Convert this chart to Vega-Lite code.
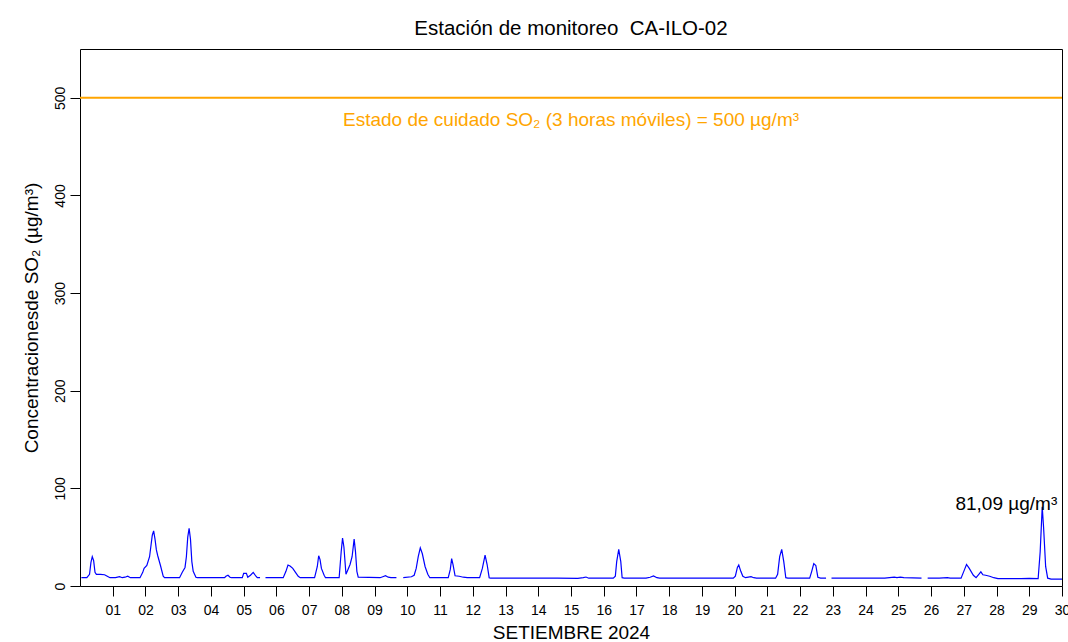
{
  "$schema": "https://vega.github.io/schema/vega-lite/v6.json",
  "width": 982,
  "height": 537,
  "autosize": {"type": "none"},
  "padding": {"left": 80, "top": 49, "right": 6, "bottom": 56},
  "background": "white",
  "title": {"text": "Estación de monitoreo \u00a0CA-ILO-02", "fontSize": 20.5, "font": "Liberation Sans", "fontWeight": "normal", "color": "black", "offset": 10},
  "config": {
    "view": {"stroke": "black", "strokeWidth": 1},
    "font": "Liberation Sans",
    "axis": {"grid": false, "domain": false, "tickColor": "black", "tickSize": 10, "labelColor": "black", "labelFont": "Liberation Sans", "labelFontSize": 14, "titleFont": "Liberation Sans", "titleFontSize": 19, "titleFontWeight": "normal", "titleColor": "black"}
  },
  "encoding": {
    "x": {
      "field": "hora", "type": "quantitative",
      "scale": {"domain": [0, 720], "nice": false, "zero": false},
      "axis": {
        "title": "SETIEMBRE 2024",
        "values": [24, 48, 72, 96, 120, 144, 168, 192, 216, 240, 264, 288, 312, 336, 360, 384, 408, 432, 456, 480, 504, 528, 552, 576, 600, 624, 648, 672, 696, 720],
        "labelExpr": "(datum.value < 240 ? '0' : '') + round(datum.value / 24)",
        "labelPadding": 7,
        "labelOverlap": false,
        "labelFlush": false,
        "labelBound": false,
        "titlePadding": 6
      }
    },
    "y": {
      "field": "so2", "type": "quantitative",
      "scale": {"domain": [0, 550], "nice": false},
      "axis": {
        "title": "Concentracionesde SO₂ (µg/m³)",
        "values": [0, 100, 200, 300, 400, 500],
        "labelAngle": -90,
        "labelAlign": "center",
        "labelBaseline": "bottom",
        "labelPadding": 3,
        "titlePadding": 12
      }
    }
  },
  "layer": [
    {
      "data": {"values": [{"hora": 0, "so2": 500}, {"hora": 720, "so2": 500}]},
      "mark": {"type": "line", "color": "#FFA500", "strokeWidth": 2}
    },
    {
      "data": {"values": [{"so2": 500, "hora": 360, "etiqueta": "Estado de cuidado SO₂ (3 horas móviles) = 500 µg/m³"}]},
      "mark": {"type": "text", "color": "#FFA500", "fontSize": 19, "font": "Liberation Sans", "align": "center", "baseline": "alphabetic", "dy": 28},
      "encoding": {"text": {"field": "etiqueta"}}
    },
    {
      "data": {"values": [
        {"hora": 1, "so2": 8.5}, {"hora": 5, "so2": 8.5}, {"hora": 7, "so2": 12}, {"hora": 8, "so2": 24}, {"hora": 9, "so2": 30}, {"hora": 10, "so2": 26}, {"hora": 11, "so2": 14}, {"hora": 12, "so2": 12}, {"hora": 15, "so2": 12}, {"hora": 18, "so2": 11.5}, {"hora": 20, "so2": 10}, {"hora": 22, "so2": 8.5},
        {"hora": 26, "so2": 8.5}, {"hora": 29, "so2": 9.5}, {"hora": 31, "so2": 8.5}, {"hora": 33, "so2": 9}, {"hora": 35, "so2": 10}, {"hora": 37, "so2": 8.5}, {"hora": 44, "so2": 8.5}, {"hora": 46, "so2": 14}, {"hora": 47, "so2": 18}, {"hora": 49, "so2": 21}, {"hora": 51, "so2": 30}, {"hora": 53, "so2": 52}, {"hora": 54, "so2": 56.5}, {"hora": 55, "so2": 48}, {"hora": 56, "so2": 37}, {"hora": 57, "so2": 31}, {"hora": 59, "so2": 21}, {"hora": 61, "so2": 10}, {"hora": 62, "so2": 8.5},
        {"hora": 73, "so2": 8.5}, {"hora": 75, "so2": 14}, {"hora": 77, "so2": 19}, {"hora": 78, "so2": 30}, {"hora": 79, "so2": 50}, {"hora": 80, "so2": 59}, {"hora": 81, "so2": 48}, {"hora": 82, "so2": 25}, {"hora": 83, "so2": 15}, {"hora": 85, "so2": 9}, {"hora": 86, "so2": 8.5},
        {"hora": 106, "so2": 8.5}, {"hora": 107, "so2": 10}, {"hora": 108.5, "so2": 11}, {"hora": 110, "so2": 9}, {"hora": 111, "so2": 8.5}, {"hora": 119, "so2": 8.5}, {"hora": 120, "so2": 13}, {"hora": 122, "so2": 13}, {"hora": 123, "so2": 9}, {"hora": 125, "so2": 11}, {"hora": 127, "so2": 14}, {"hora": 129, "so2": 10}, {"hora": 130, "so2": 8.5}, {"hora": 132, "so2": 8.5},
        {"hora": 134, "so2": null},
        {"hora": 136, "so2": 8.5}, {"hora": 149, "so2": 8.5}, {"hora": 151, "so2": 15}, {"hora": 152.5, "so2": 21.5}, {"hora": 154, "so2": 20.5}, {"hora": 156, "so2": 18}, {"hora": 158, "so2": 14}, {"hora": 160, "so2": 10}, {"hora": 161.5, "so2": 8.5},
        {"hora": 172, "so2": 8.5}, {"hora": 174, "so2": 20}, {"hora": 175, "so2": 31}, {"hora": 176, "so2": 27}, {"hora": 177, "so2": 18}, {"hora": 179, "so2": 11}, {"hora": 180, "so2": 8.5},
        {"hora": 190, "so2": 8.5}, {"hora": 191.5, "so2": 35}, {"hora": 192.5, "so2": 49}, {"hora": 193.5, "so2": 40}, {"hora": 195, "so2": 12}, {"hora": 196.5, "so2": 17}, {"hora": 198, "so2": 22}, {"hora": 199.5, "so2": 30}, {"hora": 201, "so2": 48}, {"hora": 202, "so2": 35}, {"hora": 203, "so2": 15}, {"hora": 204, "so2": 9},
        {"hora": 220, "so2": 8.5}, {"hora": 222, "so2": 9.5}, {"hora": 224, "so2": 10.5}, {"hora": 226, "so2": 9}, {"hora": 228, "so2": 8.5}, {"hora": 232, "so2": 8.5},
        {"hora": 234, "so2": null},
        {"hora": 237, "so2": 8.5}, {"hora": 243, "so2": 9.5}, {"hora": 245, "so2": 11}, {"hora": 246.5, "so2": 18}, {"hora": 248, "so2": 30}, {"hora": 249.5, "so2": 39}, {"hora": 251, "so2": 33}, {"hora": 253, "so2": 20}, {"hora": 255, "so2": 12}, {"hora": 256.5, "so2": 8.5},
        {"hora": 270, "so2": 8.5}, {"hora": 271.5, "so2": 17}, {"hora": 272.5, "so2": 28}, {"hora": 273.5, "so2": 22}, {"hora": 275, "so2": 10.5}, {"hora": 278, "so2": 10}, {"hora": 281, "so2": 9}, {"hora": 284, "so2": 8.5},
        {"hora": 293, "so2": 8.5}, {"hora": 295, "so2": 18}, {"hora": 297, "so2": 31.5}, {"hora": 298.5, "so2": 22}, {"hora": 300, "so2": 8.5}, {"hora": 301, "so2": 8},
        {"hora": 330, "so2": 8}, {"hora": 350, "so2": 8}, {"hora": 365, "so2": 7.8}, {"hora": 369, "so2": 8.5}, {"hora": 371, "so2": 9.2}, {"hora": 373, "so2": 8},
        {"hora": 391, "so2": 8}, {"hora": 392.5, "so2": 10}, {"hora": 393.5, "so2": 25}, {"hora": 395, "so2": 37.6}, {"hora": 396.5, "so2": 25}, {"hora": 397.5, "so2": 8.5}, {"hora": 399, "so2": 8},
        {"hora": 415, "so2": 8}, {"hora": 418, "so2": 9}, {"hora": 420.5, "so2": 10.3}, {"hora": 423, "so2": 8.5}, {"hora": 425, "so2": 8}, {"hora": 450, "so2": 8}, {"hora": 470, "so2": 8},
        {"hora": 479, "so2": 8}, {"hora": 480.5, "so2": 10}, {"hora": 482, "so2": 19}, {"hora": 483, "so2": 21.5}, {"hora": 484.5, "so2": 15}, {"hora": 486, "so2": 10}, {"hora": 488, "so2": 8.5}, {"hora": 490, "so2": 9}, {"hora": 492, "so2": 9.5}, {"hora": 494, "so2": 8.5}, {"hora": 496, "so2": 8},
        {"hora": 510, "so2": 8}, {"hora": 511.5, "so2": 12}, {"hora": 513, "so2": 30}, {"hora": 514.5, "so2": 37.6}, {"hora": 516, "so2": 25}, {"hora": 517.5, "so2": 8.5}, {"hora": 519, "so2": 8},
        {"hora": 535, "so2": 8}, {"hora": 536.5, "so2": 15}, {"hora": 538, "so2": 23}, {"hora": 539.5, "so2": 21}, {"hora": 541, "so2": 9}, {"hora": 543, "so2": 8}, {"hora": 547, "so2": 8},
        {"hora": 549, "so2": null},
        {"hora": 551, "so2": 8}, {"hora": 570, "so2": 8}, {"hora": 590, "so2": 8}, {"hora": 597, "so2": 9}, {"hora": 599, "so2": 8.5}, {"hora": 601.5, "so2": 9}, {"hora": 604, "so2": 8.5}, {"hora": 617, "so2": 8},
        {"hora": 619, "so2": null},
        {"hora": 621.5, "so2": 8}, {"hora": 630, "so2": 8}, {"hora": 636, "so2": 8.5}, {"hora": 638, "so2": 8}, {"hora": 646, "so2": 8}, {"hora": 648, "so2": 15}, {"hora": 650, "so2": 22}, {"hora": 652, "so2": 18}, {"hora": 655, "so2": 11}, {"hora": 657, "so2": 8.5}, {"hora": 659, "so2": 12}, {"hora": 660.5, "so2": 14.5}, {"hora": 662, "so2": 11.5}, {"hora": 664, "so2": 11}, {"hora": 667, "so2": 10}, {"hora": 670, "so2": 8.5}, {"hora": 673, "so2": 7.5},
        {"hora": 690, "so2": 7.5}, {"hora": 696, "so2": 7.8}, {"hora": 702.5, "so2": 7.5}, {"hora": 704, "so2": 35}, {"hora": 705.5, "so2": 81.09}, {"hora": 706.5, "so2": 60}, {"hora": 708, "so2": 20}, {"hora": 709.5, "so2": 8}, {"hora": 712, "so2": 7}, {"hora": 720, "so2": 7}
      ]},
      "mark": {"type": "line", "color": "#0000FF", "strokeWidth": 1.2, "invalid": "break-paths-show-domains"}
    },
    {
      "data": {"values": [{"hora": 705.5, "so2": 81.09, "etiqueta": "81,09 µg/m³"}]},
      "mark": {"type": "text", "color": "black", "fontSize": 19, "font": "Liberation Sans", "align": "right", "baseline": "alphabetic", "dx": 15, "dy": 3},
      "encoding": {"text": {"field": "etiqueta"}}
    }
  ]
}
